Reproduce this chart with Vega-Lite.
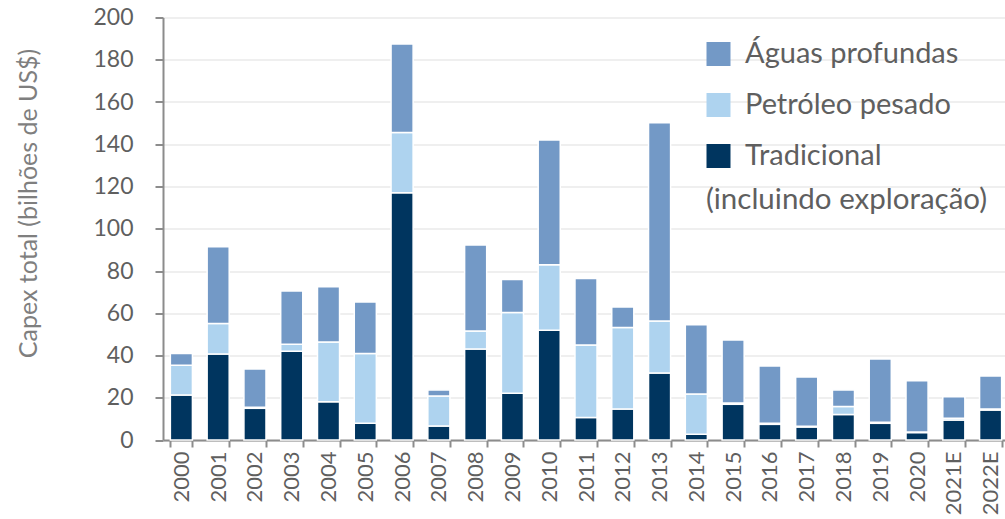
{
  "$schema": "https://vega.github.io/schema/vega-lite/v6.json",
  "autosize": {"type": "none"},
  "width": 846,
  "height": 422.5,
  "padding": {"left": 163, "top": 17.5, "right": 0, "bottom": 79},
  "background": "white",
  "config": {
    "font": "Lato",
    "view": {"stroke": null},
    "axis": {"labelColor": "#5f5f5f", "titleColor": "#7f7f7f", "labelFont": "Lato", "titleFont": "Lato"}
  },
  "layer": [
    {
      "data": {
        "values": [
          {"ano": "2000", "serie": "Tradicional", "valor": 21.3},
          {"ano": "2000", "serie": "Petróleo pesado", "valor": 14.1},
          {"ano": "2000", "serie": "Águas profundas", "valor": 5.6},
          {"ano": "2001", "serie": "Tradicional", "valor": 40.7},
          {"ano": "2001", "serie": "Petróleo pesado", "valor": 14.5},
          {"ano": "2001", "serie": "Águas profundas", "valor": 36.3},
          {"ano": "2002", "serie": "Tradicional", "valor": 15.0},
          {"ano": "2002", "serie": "Petróleo pesado", "valor": 0.5},
          {"ano": "2002", "serie": "Águas profundas", "valor": 18.1},
          {"ano": "2003", "serie": "Tradicional", "valor": 42.0},
          {"ano": "2003", "serie": "Petróleo pesado", "valor": 3.3},
          {"ano": "2003", "serie": "Águas profundas", "valor": 25.2},
          {"ano": "2004", "serie": "Tradicional", "valor": 18.1},
          {"ano": "2004", "serie": "Petróleo pesado", "valor": 28.3},
          {"ano": "2004", "serie": "Águas profundas", "valor": 26.2},
          {"ano": "2005", "serie": "Tradicional", "valor": 7.9},
          {"ano": "2005", "serie": "Petróleo pesado", "valor": 33.1},
          {"ano": "2005", "serie": "Águas profundas", "valor": 24.3},
          {"ano": "2006", "serie": "Tradicional", "valor": 117.0},
          {"ano": "2006", "serie": "Petróleo pesado", "valor": 28.6},
          {"ano": "2006", "serie": "Águas profundas", "valor": 41.9},
          {"ano": "2007", "serie": "Tradicional", "valor": 6.6},
          {"ano": "2007", "serie": "Petróleo pesado", "valor": 14.2},
          {"ano": "2007", "serie": "Águas profundas", "valor": 2.9},
          {"ano": "2008", "serie": "Tradicional", "valor": 43.1},
          {"ano": "2008", "serie": "Petróleo pesado", "valor": 8.5},
          {"ano": "2008", "serie": "Águas profundas", "valor": 40.7},
          {"ano": "2009", "serie": "Tradicional", "valor": 22.1},
          {"ano": "2009", "serie": "Petróleo pesado", "valor": 38.3},
          {"ano": "2009", "serie": "Águas profundas", "valor": 15.6},
          {"ano": "2010", "serie": "Tradicional", "valor": 51.9},
          {"ano": "2010", "serie": "Petróleo pesado", "valor": 31.1},
          {"ano": "2010", "serie": "Águas profundas", "valor": 59.0},
          {"ano": "2011", "serie": "Tradicional", "valor": 10.7},
          {"ano": "2011", "serie": "Petróleo pesado", "valor": 34.3},
          {"ano": "2011", "serie": "Águas profundas", "valor": 31.5},
          {"ano": "2012", "serie": "Tradicional", "valor": 14.7},
          {"ano": "2012", "serie": "Petróleo pesado", "valor": 38.5},
          {"ano": "2012", "serie": "Águas profundas", "valor": 9.8},
          {"ano": "2013", "serie": "Tradicional", "valor": 31.7},
          {"ano": "2013", "serie": "Petróleo pesado", "valor": 24.6},
          {"ano": "2013", "serie": "Águas profundas", "valor": 93.9},
          {"ano": "2014", "serie": "Tradicional", "valor": 2.7},
          {"ano": "2014", "serie": "Petróleo pesado", "valor": 19.1},
          {"ano": "2014", "serie": "Águas profundas", "valor": 32.8},
          {"ano": "2015", "serie": "Tradicional", "valor": 16.9},
          {"ano": "2015", "serie": "Petróleo pesado", "valor": 0.6},
          {"ano": "2015", "serie": "Águas profundas", "valor": 29.8},
          {"ano": "2016", "serie": "Tradicional", "valor": 7.4},
          {"ano": "2016", "serie": "Petróleo pesado", "valor": 0.5},
          {"ano": "2016", "serie": "Águas profundas", "valor": 27.1},
          {"ano": "2017", "serie": "Tradicional", "valor": 6.2},
          {"ano": "2017", "serie": "Petróleo pesado", "valor": 0.3},
          {"ano": "2017", "serie": "Águas profundas", "valor": 23.3},
          {"ano": "2018", "serie": "Tradicional", "valor": 12.1},
          {"ano": "2018", "serie": "Petróleo pesado", "valor": 3.7},
          {"ano": "2018", "serie": "Águas profundas", "valor": 7.9},
          {"ano": "2019", "serie": "Tradicional", "valor": 7.9},
          {"ano": "2019", "serie": "Petróleo pesado", "valor": 0.5},
          {"ano": "2019", "serie": "Águas profundas", "valor": 29.9},
          {"ano": "2020", "serie": "Tradicional", "valor": 3.5},
          {"ano": "2020", "serie": "Petróleo pesado", "valor": 0.3},
          {"ano": "2020", "serie": "Águas profundas", "valor": 24.3},
          {"ano": "2021E", "serie": "Tradicional", "valor": 9.5},
          {"ano": "2021E", "serie": "Petróleo pesado", "valor": 0.8},
          {"ano": "2021E", "serie": "Águas profundas", "valor": 10.2},
          {"ano": "2022E", "serie": "Tradicional", "valor": 14.2},
          {"ano": "2022E", "serie": "Petróleo pesado", "valor": 0.5},
          {"ano": "2022E", "serie": "Águas profundas", "valor": 15.6}
        ]
      },
      "transform": [
        {"calculate": "indexof(['Tradicional','Petróleo pesado','Águas profundas'], datum.serie)", "as": "ordem"}
      ],
      "mark": {"type": "bar", "stroke": "white", "strokeWidth": 1.5},
      "encoding": {
        "x": {
          "field": "ano", "type": "nominal", "sort": null,
          "scale": {"paddingInner": 0.4, "paddingOuter": 0.2},
          "axis": {
            "title": null, "labelAngle": 270, "labelAlign": "right", "labelBaseline": "middle",
            "labelFontSize": 22, "labelPadding": 4, "tickBand": "extent", "tickSize": 7,
            "tickColor": "#8c8c8c", "tickWidth": 2, "domainColor": "#8c8c8c", "domainWidth": 2, "grid": false
          }
        },
        "y": {
          "field": "valor", "type": "quantitative", "stack": "zero",
          "scale": {"domain": [0, 200], "nice": false},
          "axis": {
            "title": "Capex total (bilhões de US$)", "titleFontSize": 25, "titleFontWeight": "normal",
            "titleX": -135, "titleY": 185.5, "titleAngle": 270, "titleAlign": "center", "titleBaseline": "middle",
            "values": [0, 20, 40, 60, 80, 100, 120, 140, 160, 180, 200],
            "labelFontSize": 23, "labelPadding": 22, "tickSize": 8, "tickColor": "#8c8c8c", "tickWidth": 2,
            "domainColor": "#8c8c8c", "domainWidth": 2, "gridColor": "#efefef", "gridWidth": 2
          }
        },
        "color": {
          "field": "serie", "type": "nominal",
          "scale": {"domain": ["Águas profundas", "Petróleo pesado", "Tradicional"], "range": ["#7399c6", "#aed3ef", "#00355f"]},
          "legend": {
            "title": null, "orient": "none", "legendX": 541, "legendY": 22, "padding": 0,
            "symbolType": "square", "symbolSize": 576, "symbolStrokeWidth": 0,
            "labelFontSize": 29, "labelColor": "#5f5f5f", "labelOffset": 12, "rowPadding": 21, "labelLimit": 400
          }
        },
        "order": {"field": "ordem", "type": "quantitative"}
      }
    },
    {
      "data": {"values": [{"t": "(incluindo exploração)"}]},
      "mark": {"type": "text", "fontSize": 29.5, "color": "#5f5f5f", "align": "center", "baseline": "middle", "dx": 3},
      "encoding": {
        "x": {"datum": "2018", "type": "nominal"},
        "y": {"datum": 113.6, "type": "quantitative"},
        "text": {"field": "t"}
      }
    }
  ]
}
